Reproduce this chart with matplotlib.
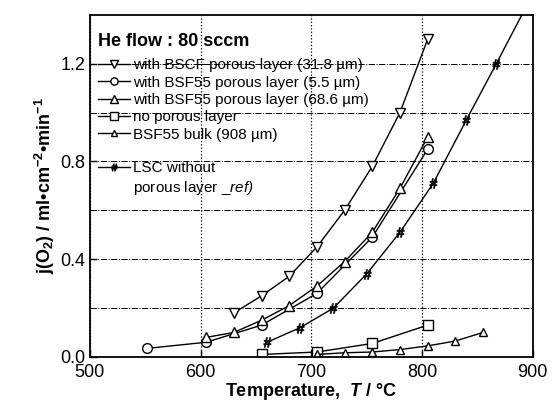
import matplotlib.pyplot as plt
from matplotlib.lines import Line2D

plt.rcParams['font.family'] = ['Liberation Sans', 'DejaVu Sans']
plt.rcParams['mathtext.fontset'] = 'custom'
plt.rcParams['mathtext.rm'] = 'Liberation Sans:bold'
plt.rcParams['mathtext.it'] = 'Liberation Sans:bold:italic'
plt.rcParams['mathtext.sf'] = 'Liberation Sans:italic'
plt.rcParams['mathtext.default'] = 'rm'

# data
bscf_T = [630, 655, 680, 705, 730, 755, 780, 805]
bscf_j = [0.18, 0.25, 0.33, 0.45, 0.60, 0.78, 1.00, 1.30]

bsf_thin_T = [552, 605, 655, 705, 755, 805]
bsf_thin_j = [0.035, 0.06, 0.13, 0.26, 0.49, 0.85]

bsf_thick_T = [605, 630, 655, 680, 705, 730, 755, 780, 805]
bsf_thick_j = [0.08, 0.10, 0.15, 0.21, 0.29, 0.39, 0.51, 0.69, 0.90]

nolayer_T = [655, 705, 755, 805]
nolayer_j = [0.01, 0.02, 0.055, 0.13]

bulk_T = [705, 730, 755, 780, 805, 830, 855]
bulk_j = [0.01, 0.017, 0.02, 0.03, 0.045, 0.065, 0.10]

lsc_T = [660, 690, 720, 750, 780, 810, 840, 867, 897]
lsc_j = [0.06, 0.12, 0.20, 0.34, 0.51, 0.71, 0.97, 1.20, 1.46]

labels = [
    'with BSCF porous layer (31.8 \u00b5m)',
    'with BSF55 porous layer (5.5 \u00b5m)',
    'with BSF55 porous layer (68.6 \u00b5m)',
    'no porous layer',
    'BSF55 bulk (908 \u00b5m)',
    'LSC without',
]
label_extra = 'porous layer _$\\mathsf{ref)}$'

fig = plt.figure(figsize=(5.55, 4.15), dpi=100)
ax = fig.add_axes([0.162, 0.140, 0.798, 0.824])

kw = dict(color='black', lw=1.0, mfc='white', mec='black', mew=1.0)
ax.plot(bscf_T, bscf_j, marker='v', ms=7, label=labels[0], **kw)
ax.plot(bsf_thin_T, bsf_thin_j, marker='o', ms=7, label=labels[1], **kw)
ax.plot(bsf_thick_T, bsf_thick_j, marker='^', ms=7, label=labels[2], **kw)
ax.plot(nolayer_T, nolayer_j, marker='s', ms=7, label=labels[3], **kw)
ax.plot(bulk_T, bulk_j, marker='^', ms=6, label=labels[4], **kw)
ax.plot(lsc_T, lsc_j, marker='$\\#$', ms=7, label=labels[5], color='black', lw=1.0, mew=0.5)

ax.set_xlim(500, 900)
ax.set_ylim(0, 1.4)
ax.set_xticks([500, 600, 700, 800, 900])
ax.set_yticks([0.0, 0.4, 0.8, 1.2])
ax.set_yticks([0.2, 0.6, 1.0], minor=True)
ax.set_yticklabels(['0.0', '0.4', '0.8', '1.2'])
ax.tick_params(direction='in', labelsize=13, length=5, width=1)
ax.tick_params(axis='x', pad=5)
ax.tick_params(which='minor', direction='in', length=4)

ax.yaxis.grid(True, which='both', linestyle='-.', color='black', lw=0.7)
ax.xaxis.grid(True, linestyle=':', color='black', lw=0.9)
for s in ax.spines.values():
    s.set_linewidth(1.3)

ax.set_xlabel('Temperature,  $\\mathit{T}$ / \u00b0C', fontsize=13, fontweight='bold', labelpad=0)
ax.set_ylabel('j(O$_2$) / ml\u2022cm$^{-2}$\u2022min$^{-1}$', fontsize=13, fontweight='bold', labelpad=2)

# legend: small gap before the LSC entry, second LSC line without a handle
handles, labs = ax.get_legend_handles_labels()
blank = Line2D([], [], linestyle='none')
handles = handles[:5] + [blank] + handles[5:] + [blank]
labs = labs[:5] + [' '] + labs[5:] + [label_extra]
leg = ax.legend(handles, labs, loc='upper left', bbox_to_anchor=(0.005, 0.965), frameon=False,
                fontsize=11, markerscale=0.75,
                title='He flow : 80 sccm', title_fontproperties={'weight': 'bold', 'size': 13},
                handlelength=2.1, handletextpad=0.15, labelspacing=0.22,
                borderaxespad=0.2, borderpad=0.2)
leg._legend_box.align = 'left'
leg._legend_box.sep = 6
leg.get_texts()[5].set_fontsize(5)

fig.savefig('out.png', dpi=100)
